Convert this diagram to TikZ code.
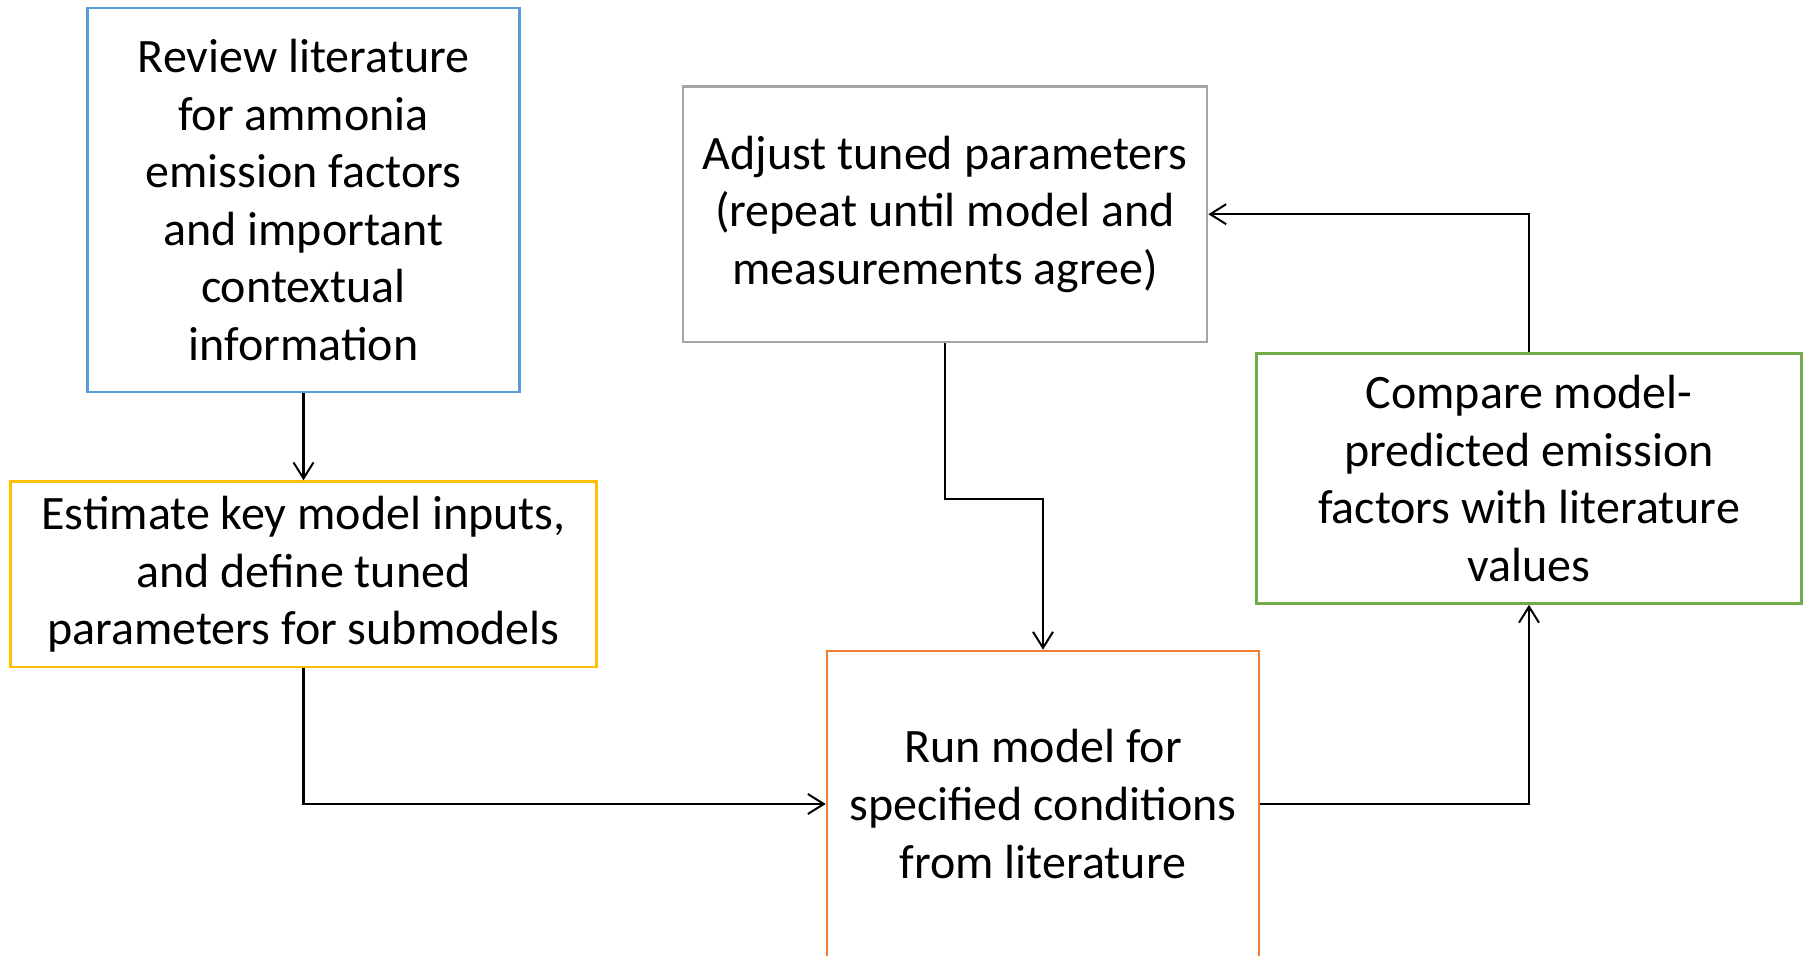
\documentclass[tikz,border=0pt]{standalone}
\usepackage{fontspec}
\setmainfont{Carlito}
\usepackage{xcolor}
\usepackage{tikz}
\usetikzlibrary{arrows.meta,positioning,calc}
\definecolor{revblue}{RGB}{91,155,213}
\definecolor{estgold}{RGB}{255,192,0}
\definecolor{adjgray}{RGB}{165,165,165}
\definecolor{cmpgreen}{RGB}{112,173,71}
\definecolor{runorange}{RGB}{237,125,49}
\tikzset{
  >={Straight Barb[length=8pt,width=10pt,line width=1pt]},
  block/.style={draw, line width=1.3pt, align=center, inner sep=0pt,
    font=\fontsize{24}{28.8}\selectfont},
  review/.style={block, draw=revblue, minimum width=216pt, minimum height=192pt},
  estim/.style={block, draw=estgold, minimum width=293pt, minimum height=92.8pt},
  adjust/.style={block, draw=adjgray, minimum width=262pt, minimum height=127.8pt},
  compare/.style={block, draw=cmpgreen, minimum width=272.4pt, minimum height=125pt},
  run/.style={block, draw=runorange, minimum width=216pt, minimum height=153pt},
  link/.style={->, line width=1.1pt},
}
\begin{document}
\begin{tikzpicture}
  \useasboundingbox (0pt,0pt) rectangle (903pt,-478pt);
  \clip (0pt,0pt) rectangle (903pt,-478pt);

  \node[review] (rev) at (151.75pt,-100pt) {Review literature\\for ammonia\\emission factors\\and important\\contextual\\information};
  \node[estim, below=43.5pt of rev] (est) {Estimate key model inputs,\\and define tuned\\parameters for submodels};
  \node[adjust] (adj) at (472.5pt,-107.1pt) {Adjust tuned parameters\\(repeat until model and\\measurements agree)};
  \node[compare] (cmp) at (764.5pt,-239.25pt) {Compare model-\\predicted emission\\factors with literature\\values};
  \node[run] (run) at (521.5pt,-402pt) {Run model for\\specified conditions\\from literature};

  \draw[link] (rev.south) -- (est.north);
  \draw[link] (est.south) |- (run.west);
  \draw[link] (adj.south) -- ++(0,-77.8pt) -| (run.north);
  \draw[link] (run.east) -| (cmp.south);
  \draw[link] (cmp.north) |- (adj.east);
\end{tikzpicture}
\end{document}
